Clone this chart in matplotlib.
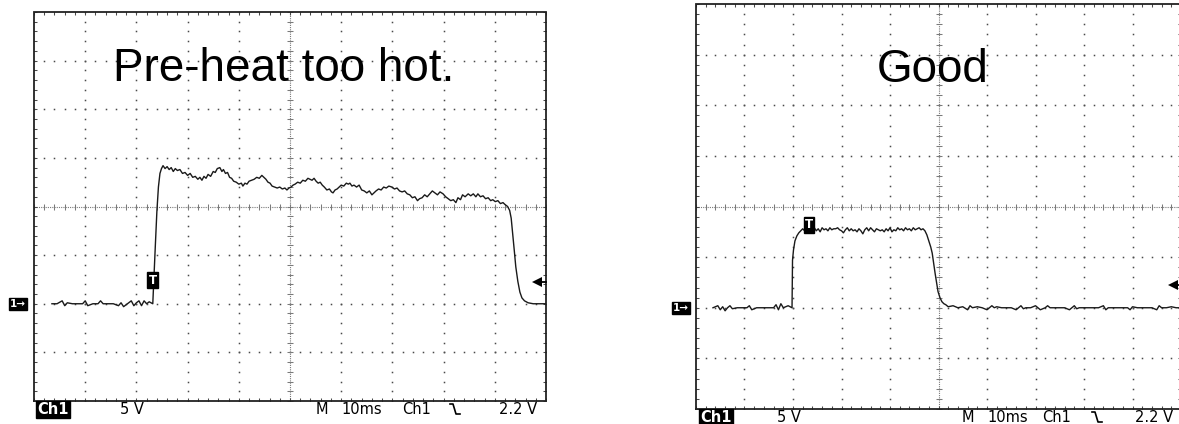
import numpy as np
import matplotlib
matplotlib.use("Agg")
import matplotlib.pyplot as plt

# ---------------- data ----------------
left_title = "Pre-heat too hot."
right_title = "Good"
volts_per_div = 5
ms_per_div = 10
trigger_level_v = 2.2
readout_ch = "Ch1"
readout_scale = "5 V"
readout_m = "M"
readout_time = "10ms"
readout_src = "Ch1"
readout_level = "2.2 V"
ground_label = "1\u2192"
trigger_label = "T"

left_time_ms = [3.5, 4.5, 5.5, 6.0, 6.5, 7.5, 8.5, 9.5, 10.0, 10.5, 11.5, 12.5, 13.0, 13.5,
                14.5, 15.5, 16.5, 17.0, 17.5, 18.5, 19.0, 19.5, 20.0, 20.5, 21.0, 21.5,
                22.0, 22.5, 23.2,
                23.4, 23.7, 24.0, 24.3, 24.6, 24.9,
                25.2, 25.6, 26.0, 26.4, 26.8, 27.2, 27.6, 28.0, 28.5, 29.0, 29.5, 30.0,
                30.5, 31.0, 31.5, 32.0, 32.4, 32.8, 33.2, 33.6, 34.0, 34.5, 35.0, 35.4,
                35.8, 36.3, 36.7, 37.0, 37.4, 37.8, 38.2, 38.6, 39.0, 39.5, 40.0, 40.5,
                40.8, 41.2, 41.6, 42.0, 42.5, 43.0, 43.5, 44.0, 44.5, 44.9, 45.3, 45.7,
                46.1, 46.5, 47.0, 47.5, 48.0, 48.5, 49.0, 49.4, 49.8, 50.2, 50.6, 51.0,
                51.5, 52.0, 52.5, 53.0, 53.5, 53.9, 54.3, 54.7, 55.1, 55.5, 55.9, 56.3,
                56.7, 57.2, 57.7, 58.1, 58.4, 58.8, 59.2, 59.6, 60.0, 60.5, 61.0, 61.4,
                61.7, 62.1, 62.5, 63.0, 63.5, 64.0, 64.5, 65.0, 65.5, 66.0, 66.4, 66.8,
                67.3, 67.8, 68.3, 68.8, 69.3, 69.9, 70.4, 70.9, 71.4, 71.9, 72.4, 72.9,
                73.4, 73.9, 74.4, 74.9, 75.3, 75.8, 76.3, 76.8, 77.3, 77.8, 78.3, 78.8,
                79.3, 79.9, 80.4, 80.9, 81.4, 81.9, 82.4, 82.8, 83.3, 83.7, 84.2, 84.8,
                85.3, 85.8, 86.3, 86.7, 87.2, 87.7, 88.2, 88.7, 89.2, 89.6, 90.1, 90.6,
                91.1, 91.6, 92.0, 92.5, 92.9, 93.2, 93.5, 93.8, 94.1, 94.5, 94.9, 95.3,
                95.8, 96.5, 97.5, 98.5, 100.0]
left_volts = [0.0, 0.0, 0.3, -0.2, 0.1, 0.0, 0.0, 0.0, 0.3, -0.2, 0.0, 0.0, 0.3, 0.0,
              0.0, 0.0, -0.2, 0.1, -0.3, 0.1, 0.3, -0.2, 0.1, 0.3, -0.2, 0.3,
              0.0, 0.2, 0.0,
              2.5, 6.0, 9.5, 12.0, 13.4, 13.9,
              14.2, 13.9, 14.1, 13.8, 14.0, 13.6, 13.9, 13.7, 13.8, 13.4, 13.5, 13.2,
              13.4, 13.0, 13.1, 12.8, 13.0, 12.7, 13.1, 12.9, 13.3, 13.1, 13.6, 13.5,
              13.9, 14.0, 13.6, 13.8, 13.4, 13.5, 13.0, 12.9, 12.6, 12.5, 12.3, 12.4,
              12.1, 12.4, 12.3, 12.6, 12.7, 12.8, 13.0, 12.9, 13.2, 13.0, 12.8, 12.5,
              12.4, 12.1, 12.0, 11.9, 12.0, 11.8, 11.9, 11.7, 11.9, 12.0, 12.2, 12.3,
              12.5, 12.4, 12.7, 12.6, 12.9, 12.8, 12.7, 12.9, 12.6, 12.4, 12.5, 12.2,
              12.0, 11.7, 11.8, 11.5, 11.4, 11.7, 11.8, 12.0, 12.2, 12.1, 12.4, 12.3,
              12.4, 12.1, 12.2, 12.0, 12.2, 11.7, 11.6, 11.4, 11.6, 11.2, 11.4, 11.6,
              11.8, 11.7, 12.0, 11.9, 12.1, 12.0, 11.8, 11.9, 11.6, 11.5, 11.6, 11.3,
              11.2, 10.9, 11.0, 10.6, 10.8, 10.9, 11.2, 11.0, 11.3, 11.6, 11.4, 11.2,
              11.5, 11.3, 11.0, 10.8, 10.6, 10.7, 10.4, 10.9, 10.7, 11.2, 11.0, 11.3,
              11.1, 11.3, 11.0, 11.3, 11.0, 11.1, 10.8, 10.9, 10.6, 10.7, 10.5, 10.6,
              10.3, 10.4, 10.2, 10.0, 9.6, 8.8, 7.2, 5.5, 3.8, 2.3, 1.2, 0.6,
              0.3, 0.1, 0.0, 0.0, 0.0]

right_time_ms = [3.5, 4.5, 5.0, 5.5, 6.0, 6.5, 7.0, 7.5, 8.5, 9.5, 10.5, 11.0, 11.5, 12.5,
                 13.5, 14.5, 15.0, 15.5, 16.0, 16.5, 17.0, 17.5, 18.0, 19.0, 19.8,
                 19.85, 19.9, 20.1, 20.4, 20.8, 21.2,
                 21.6, 22.0, 22.4, 22.8, 23.2, 23.6, 24.0, 24.4, 24.8, 25.2, 25.6, 26.0,
                 26.4, 26.8, 27.2, 27.6, 28.0, 28.4, 28.8, 29.2, 29.6, 30.0, 30.4, 30.8,
                 31.2, 31.6, 32.0, 32.4, 32.8, 33.2, 33.6, 34.0, 34.4, 34.8, 35.2, 35.6,
                 36.0, 36.4, 36.8, 37.2, 37.6, 38.0, 38.4, 38.8, 39.2, 39.6, 40.0, 40.4,
                 40.8, 41.2, 41.6, 42.0, 42.4, 42.8, 43.2, 43.6, 44.0, 44.4, 44.8, 45.2,
                 45.6, 46.0, 46.4, 46.8, 47.2,
                 47.6, 48.0, 48.4, 48.7, 49.0, 49.3, 49.6, 49.9, 50.3, 50.7, 51.1, 51.5,
                 52.0, 53.0, 54.0, 55.0, 56.0, 56.5, 57.0, 58.0, 59.0, 60.0, 61.0, 61.5,
                 62.0, 63.0, 64.0, 65.0, 66.0, 67.0, 67.5, 68.0, 69.0, 70.0, 71.0, 72.0,
                 72.5, 73.0, 74.0, 75.0, 76.0, 77.0, 78.0, 78.5, 79.0, 80.0, 81.0, 82.0,
                 83.0, 84.0, 84.5, 85.0, 86.0, 87.0, 88.0, 89.0, 89.5, 90.0, 91.0, 92.0,
                 93.0, 94.0, 95.0, 95.5, 96.0, 97.0, 98.0, 99.0, 100.0]
right_volts = [0.0, 0.2, -0.2, 0.1, -0.3, 0.0, 0.2, -0.1, 0.0, 0.0, 0.0, 0.2, -0.2, 0.0,
               0.0, 0.0, 0.0, 0.0, 0.0, 0.3, -0.2, 0.4, 0.0, 0.2, 0.0,
               2.5, 4.7, 5.7, 6.6, 7.1, 7.4,
               7.6, 7.8, 7.6, 7.9, 7.7, 7.8, 7.5, 7.9, 7.6, 7.8, 7.5, 7.9,
               7.7, 7.8, 7.6, 7.9, 7.7, 7.8, 7.8, 7.9, 7.7, 7.6, 7.4, 7.7,
               7.9, 7.6, 7.8, 7.6, 7.7, 7.5, 7.8, 7.6, 7.3, 7.7, 7.9, 7.6,
               7.9, 7.7, 7.5, 7.8, 7.7, 7.6, 7.7, 7.5, 7.8, 7.6, 7.9, 7.5,
               7.7, 7.6, 7.9, 7.7, 7.8, 7.6, 7.9, 7.7, 7.8, 7.6, 7.9, 7.7,
               7.8, 7.9, 7.7, 7.8, 7.6,
               7.2, 6.6, 6.0, 5.4, 4.4, 3.4, 2.5, 1.6, 1.0, 0.6, 0.4, 0.3,
               0.1, 0.2, 0.0, 0.1, -0.2, 0.2, 0.0, 0.1, 0.0, -0.2, 0.2, 0.0,
               0.1, 0.0, 0.0, 0.0, -0.2, 0.2, -0.1, 0.0, 0.0, 0.2, -0.2, 0.0,
               0.2, 0.0, 0.0, 0.0, 0.0, -0.2, 0.2, -0.1, 0.0, 0.0, 0.0, 0.0,
               0.0, 0.2, -0.2, 0.0, 0.0, 0.0, 0.0, 0.0, -0.2, 0.1, 0.0, 0.0,
               0.0, 0.0, -0.2, 0.2, 0.0, 0.0, 0.1, 0.0, 0.0]

left_trigger_mark = (23.2, 2.4)
right_trigger_mark = (23.3, 8.2)

# ---------------- layout ----------------
W, H = 1179, 424
fig = plt.figure(figsize=(W / 100, H / 100), dpi=100)
fig.patch.set_facecolor("white")


def px_axes(x0, y0, x1, y1):
    return fig.add_axes([x0 / W, 1 - y1 / H, (x1 - x0) / W, (y1 - y0) / H])


ax_l = px_axes(34, 12, 546, 401)
ax_r = px_axes(696, 4, 1181, 409)

DOT = "#4a4a4a"
CEN = "#7a7a7a"


def draw_scope(ax, t, v, trig, gnd_off):
    xmax = 10 * ms_per_div
    ymin, ymax = -2 * volts_per_div, 6 * volts_per_div
    ycen = 2 * volts_per_div
    xcen = 5 * ms_per_div
    ax.set_xlim(0, xmax)
    ax.set_ylim(ymin, ymax)
    ax.axis("off")
    sub_t = np.arange(0, xmax + 0.01, ms_per_div / 5)
    sub_v = np.arange(ymin, ymax + 0.01, volts_per_div / 5)
    # interior grid (dots)
    for k in range(1, 10):
        x = k * ms_per_div
        if x == xcen:
            continue
        ax.plot(np.full_like(sub_v, x), sub_v, ls="none", marker="s", ms=1.1,
                mew=0, color=DOT)
    for k in range(1, 8):
        y = ymin + k * volts_per_div
        if y == ycen:
            continue
        ax.plot(sub_t, np.full_like(sub_t, y), ls="none", marker="s", ms=1.1,
                mew=0, color=DOT)
    # center cross
    ax.plot([xcen, xcen], [ymin, ymax], ls=(0, (1, 1)), lw=0.8, color=CEN)
    ax.plot([0, xmax], [ycen, ycen], ls=(0, (1, 1)), lw=0.8, color=CEN)
    ax.plot(np.full_like(sub_v, xcen), sub_v, ls="none", marker="_", ms=4.5,
            mew=0.75, color=CEN)
    ax.plot(sub_t, np.full_like(sub_t, ycen), ls="none", marker="|", ms=4.5,
            mew=0.75, color=CEN)
    # border ticks (clipped -> inward)
    ax.plot(sub_t, np.full_like(sub_t, ymax), ls="none", marker="|", ms=4.5,
            mew=0.75, color=DOT)
    ax.plot(sub_t, np.full_like(sub_t, ymin), ls="none", marker="|", ms=4.5,
            mew=0.75, color=DOT)
    ax.plot(np.full_like(sub_v, 0), sub_v, ls="none", marker="_", ms=4.5,
            mew=0.75, color=DOT)
    ax.plot(np.full_like(sub_v, xmax), sub_v, ls="none", marker="_", ms=4.5,
            mew=0.75, color=DOT)
    # frame
    ax.plot([0, xmax, xmax, 0, 0], [ymin, ymin, ymax, ymax, ymin], lw=1.3,
            color="#222222", clip_on=False, solid_joinstyle="miter")
    # waveform
    ax.plot(t, v, color="#1a1a1a", lw=1.0, zorder=5)
    # trigger mark
    ax.text(trig[0], trig[1], trigger_label, ha="center", va="center",
            color="white", fontsize=8.5, fontweight="bold", zorder=6,
            bbox=dict(boxstyle="square,pad=0.12", fc="black", ec="black"))
    # trigger level arrow on right edge
    ax.plot([98.8, xmax], [trigger_level_v, trigger_level_v], color="black",
            lw=1.3, clip_on=False)
    ax.plot([98.3], [trigger_level_v], marker="<", ms=7, color="black",
            mew=0, clip_on=False)
    # ground marker
    ax.annotate(ground_label, xy=(0, 0), xycoords=("axes fraction", "data"),
                xytext=(gnd_off, 0), textcoords="offset points", ha="center",
                va="center", color="white", fontsize=7.5, fontweight="bold",
                annotation_clip=False,
                bbox=dict(boxstyle="square,pad=0.12", fc="black", ec="black"))


draw_scope(ax_l, left_time_ms, left_volts, left_trigger_mark, -11.5)
draw_scope(ax_r, right_time_ms, right_volts, right_trigger_mark, -10.8)

# overlay in pixel coordinates for texts
ov = fig.add_axes([0, 0, 1, 1], zorder=10)
ov.set_xlim(0, W)
ov.set_ylim(H, 0)
ov.axis("off")
ov.patch.set_alpha(0)

ov.text(113, 81, left_title, fontsize=33, family="Liberation Sans",
        va="baseline", ha="left", color="black")
ov.text(877, 82, right_title, fontsize=33, family="Liberation Sans",
        va="baseline", ha="left", color="black")

RO = dict(fontsize=10.5, family="DejaVu Sans", va="baseline", ha="left",
          color="black")


def readouts(x_ch, x_scale, x_m, x_time, x_src, x_sym, x_lvl, base):
    ov.text(x_ch + 1, base, readout_ch, color="white", fontsize=10.5,
            fontweight="bold", family="DejaVu Sans", va="baseline", ha="left",
            bbox=dict(boxstyle="square,pad=0.08", fc="black", ec="black"))
    ov.text(x_scale, base, readout_scale, **RO)
    ov.text(x_m, base, readout_m, **RO)
    ov.text(x_time, base, readout_time, **RO)
    ov.text(x_src, base, readout_src, **RO)
    ov.text(x_lvl, base, readout_level, **RO)
    top = base - 10
    ov.plot([x_sym, x_sym + 3, x_sym + 6, x_sym + 10],
            [top, top, base, base], color="black", lw=1.2)


readouts(36, 120, 316, 341, 402, 450, 499, 414)
readouts(699, 777, 962, 987, 1042, 1092, 1135, 422)

fig.savefig("out.png", dpi=100, facecolor="white")
